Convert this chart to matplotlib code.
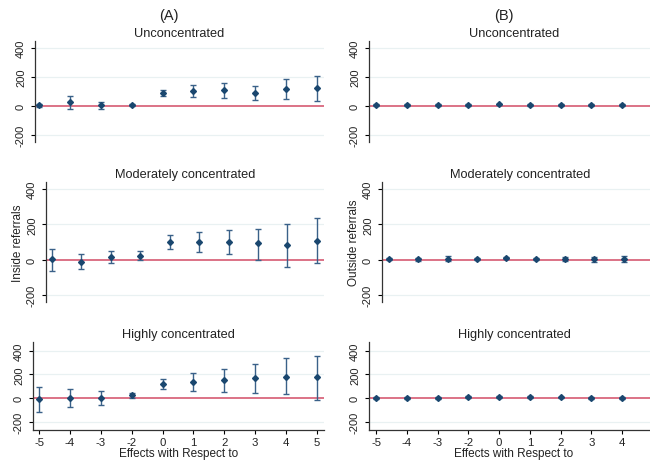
import numpy as np
import matplotlib.pyplot as plt

plt.rcParams['font.family'] = ['Liberation Sans', 'DejaVu Sans']

# event-time labels
ticks_a = ['-5', '-4', '-3', '-2', '0', '1', '2', '3', '4', '5']
ticks_b = ['-5', '-4', '-3', '-2', '0', '1', '2', '3', '4']

# (A) inside referrals: point estimate, lower, upper
a_unc = [5, 28, 5, 5, 92, 104, 113, 92, 117, 124]
a_unc_lo = [-5, -18, -18, -3, 71, 64, 53, 44, 48, 37]
a_unc_hi = [15, 69, 30, 13, 113, 143, 161, 138, 186, 205]

a_mod = [4, -11, 17, 23, 102, 102, 102, 92, 83, 108]
a_mod_lo = [-62, -53, -19, -4, 62, 42, 32, 0, -40, -19]
a_mod_hi = [62, 30, 49, 49, 140, 155, 166, 174, 200, 234]

a_high = [-8, -3, 3, 25, 121, 138, 152, 166, 180, 175]
a_high_lo = [-115, -79, -62, -3, 76, 59, 54, 39, 31, -14]
a_high_hi = [96, 73, 62, 45, 163, 209, 242, 290, 335, 358]

# (B) outside referrals
b_unc = [5, 5, 5, 5, 10, 5, 5, 5, 4]
b_unc_lo = [0, 0, 0, 0, 4, 0, 0, 0, -2]
b_unc_hi = [10, 10, 10, 10, 16, 10, 10, 10, 10]

b_mod = [4, 3, 6, 4, 10, 4, 3, 2, 4]
b_mod_lo = [-2, -5, -10, -1, 4, -2, -7, -12, -14]
b_mod_hi = [10, 11, 22, 9, 16, 10, 13, 16, 22]

b_high = [0, 0, 0, 8, 8, 8, 6, 0, 0]
b_high_lo = [-6, -5, -5, 2, 2, 2, 0, -5, -6]
b_high_hi = [6, 5, 5, 14, 14, 14, 12, 5, 6]

W, H = 650, 464
fig = plt.figure(figsize=(W / 100, H / 100), dpi=100)

navy = '#1a476f'
bar_col = '#3a6189'
zero_col = '#d65a72'
grid_col = '#e9f1f2'


def panel(box, ticks, est, lo, hi, ylim, xlim, title, ylabel=None, bottom=False):
    l, t, r, b = box
    ax = fig.add_axes([l / W, 1 - b / H, (r - l) / W, (b - t) / H])
    x = np.arange(len(ticks))
    est = np.array(est)
    yerr = [est - np.array(lo), np.array(hi) - est]
    for g in [-200, 200, 400]:
        ax.axhline(g, color=grid_col, lw=0.9, zorder=0)
    ax.axhline(0, color=zero_col, lw=1.2, zorder=1)
    ax.errorbar(x, est, yerr=yerr, fmt='none', ecolor=bar_col, elinewidth=1.0,
                capsize=2.5, capthick=1.0, zorder=2)
    ax.plot(x, est, 'D', color=navy, ms=3.0, zorder=3)
    ax.set_ylim(*ylim)
    ax.set_xlim(*xlim)
    ax.set_yticks([-200, 0, 200, 400])
    ax.set_yticklabels(['-200', '0', '200', '400'], rotation=90, va='center',
                       fontsize=8, color='#222222')
    for s in ['top', 'right']:
        ax.spines[s].set_visible(False)
    ax.spines['left'].set_color('#333333')
    ax.spines['left'].set_linewidth(0.9)
    ax.tick_params(axis='y', direction='out', length=3, width=0.8, pad=3.5)
    if bottom:
        ax.spines['bottom'].set_color('#333333')
        ax.spines['bottom'].set_linewidth(0.9)
        ax.set_xticks(x)
        ax.set_xticklabels(ticks, fontsize=8.2, color='#222222')
        ax.tick_params(axis='x', direction='out', length=3, width=0.8, pad=2)
        ax.set_xlabel('Effects with Respect to', fontsize=8.5, labelpad=0,
                      color='#222222')
    else:
        ax.spines['bottom'].set_visible(False)
        ax.set_xticks([])
    if ylabel:
        ax.set_ylabel(ylabel, fontsize=8.5, labelpad=2, color='#222222')
    ax.set_title(title, fontsize=9.2, pad=3.5, color='#222222')
    return ax


panel((35, 42, 324, 143), ticks_a, a_unc, a_unc_lo, a_unc_hi,
      (-249, 448), (-0.13, 9.23), 'Unconcentrated')
panel((46, 183, 324, 303), ticks_a, a_mod, a_mod_lo, a_mod_hi,
      (-240, 440), (-0.2, 9.24), 'Moderately concentrated', ylabel='Inside referrals')
panel((33, 343, 324, 431), ticks_a, a_high, a_high_lo, a_high_hi,
      (-270, 472), (-0.2, 9.23), 'Highly concentrated', bottom=True)

panel((369, 42, 659, 143), ticks_b, b_unc, b_unc_lo, b_unc_hi,
      (-249, 448), (-0.23, 9.2), 'Unconcentrated')
panel((382, 183, 659, 303), ticks_b, b_mod, b_mod_lo, b_mod_hi,
      (-240, 440), (-0.24, 9.2), 'Moderately concentrated', ylabel='Outside referrals')
panel((369, 343, 659, 431), ticks_b, b_high, b_high_lo, b_high_hi,
      (-270, 472), (-0.23, 9.2), 'Highly concentrated', bottom=True)

fig.text(169 / W, 1 - 16 / H, '(A)', fontsize=10.5, ha='center', va='center', color='#222222')
fig.text(504 / W, 1 - 16 / H, '(B)', fontsize=10.5, ha='center', va='center', color='#222222')

fig.savefig('out.png', dpi=100, facecolor='white')
